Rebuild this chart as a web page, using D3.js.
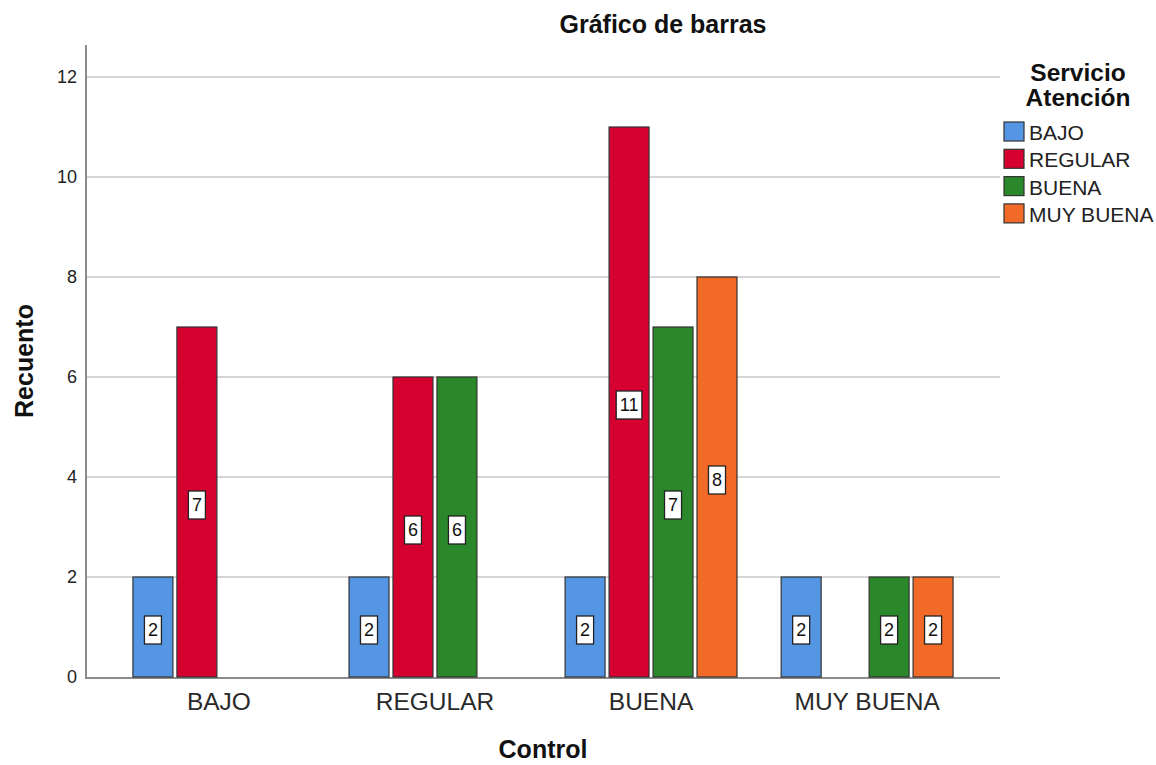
<!DOCTYPE html>
<html>
<head>
<meta charset="utf-8">
<script src="https://cdn.jsdelivr.net/npm/d3@7"></script>
<style>
  html, body { margin: 0; padding: 0; background: #fff; }
  svg { display: block; font-family: "Liberation Sans", Arial, sans-serif; }
</style>
</head>
<body>
<svg id="chart" width="1156" height="765"></svg>
<script>
// Control categories on the x axis
const categories = ["BAJO", "REGULAR", "BUENA", "MUY BUENA"];
// Servicio Atención series (legend order)
const seriesNames = ["BAJO", "REGULAR", "BUENA", "MUY BUENA"];
const seriesColors = ["#5596e4", "#d5002f", "#2a882b", "#f26a28"];
// Counts per series, one value per Control category (0 = no bar)
const bajoValues = [2, 2, 2, 2];
const regularValues = [7, 6, 11, 0];
const buenaValues = [0, 6, 7, 2];
const muyBuenaValues = [0, 0, 8, 2];
const yTicks = [0, 2, 4, 6, 8, 10, 12];

const seriesValues = [bajoValues, regularValues, buenaValues, muyBuenaValues];

const svg = d3.select("#chart");
const plot = { left: 86, right: 1000, top: 45, bottom: 677 };

const x0 = d3.scaleBand()
  .domain(categories)
  .range([plot.left, plot.right])
  .paddingInner(0.186)
  .paddingOuter(0.208);

const x1 = d3.scaleBand()
  .domain(seriesNames)
  .range([0, x0.bandwidth()])
  .paddingInner(4 / 44)
  .paddingOuter(2 / 44);

const y = d3.scaleLinear()
  .domain([0, 12.64])
  .range([plot.bottom, plot.top]);

// Horizontal gridlines
svg.append("g")
  .selectAll("line")
  .data(yTicks.filter(d => d > 0))
  .join("line")
  .attr("x1", plot.left).attr("x2", plot.right)
  .attr("y1", d => y(d)).attr("y2", d => y(d))
  .attr("stroke", "#c8c8c8")
  .attr("stroke-width", 1.6);

// Y axis
const yAxis = svg.append("g")
  .attr("transform", `translate(${plot.left},0)`)
  .call(d3.axisLeft(y).tickValues(yTicks).tickSize(0).tickPadding(9).tickFormat(d3.format("d")));
yAxis.select(".domain").remove();
yAxis.selectAll("text")
  .attr("font-size", 18)
  .attr("fill", "#222")
  .attr("font-family", "Liberation Sans, Arial, sans-serif");
svg.append("line")
  .attr("x1", plot.left).attr("x2", plot.left)
  .attr("y1", plot.top).attr("y2", plot.bottom + 1)
  .attr("stroke", "#8c8c8c").attr("stroke-width", 2);

// X axis
const xAxis = svg.append("g")
  .attr("transform", `translate(0,${plot.bottom})`)
  .call(d3.axisBottom(x0).tickSize(0).tickPadding(16));
xAxis.select(".domain").remove();
xAxis.selectAll("text")
  .attr("font-size", 24.5)
  .attr("fill", "#2a2a2a")
  .attr("font-family", "Liberation Sans, Arial, sans-serif");
svg.append("line")
  .attr("x1", plot.left - 1).attr("x2", plot.right)
  .attr("y1", plot.bottom + 1).attr("y2", plot.bottom + 1)
  .attr("stroke", "#8c8c8c").attr("stroke-width", 2);

// Bars
const barData = [];
categories.forEach((cat, ci) => {
  seriesNames.forEach((s, si) => {
    const v = seriesValues[si][ci];
    if (v > 0) barData.push({ cat, series: s, si, value: v });
  });
});

const bars = svg.append("g");
bars.selectAll("rect")
  .data(barData)
  .join("rect")
  .attr("x", d => x0(d.cat) + x1(d.series))
  .attr("y", d => y(d.value))
  .attr("width", x1.bandwidth())
  .attr("height", d => y(0) - y(d.value))
  .attr("fill", d => seriesColors[d.si])
  .attr("stroke", "#333")
  .attr("stroke-width", 1.2);

// Value labels in white boxes at the middle of each bar
const labels = svg.append("g");
barData.forEach(d => {
  const cx = x0(d.cat) + x1(d.series) + x1.bandwidth() / 2;
  const cy = (y(d.value) + y(0)) / 2 + 3;
  const g = labels.append("g");
  const t = g.append("text")
    .attr("x", cx).attr("y", cy)
    .attr("text-anchor", "middle")
    .attr("dominant-baseline", "central")
    .attr("font-size", 18)
    .attr("fill", "#111")
    .text(d.value);
  const bb = t.node().getBBox();
  g.insert("rect", "text")
    .attr("x", cx - bb.width / 2 - 3.5)
    .attr("y", cy - 14)
    .attr("width", bb.width + 7)
    .attr("height", 28)
    .attr("fill", "#fff")
    .attr("stroke", "#222")
    .attr("stroke-width", 1.3);
});

// Title
svg.append("text")
  .attr("x", 663).attr("y", 33)
  .attr("text-anchor", "middle")
  .attr("font-size", 25).attr("font-weight", "bold").attr("fill", "#111")
  .text("Gráfico de barras");

// Axis titles
svg.append("text")
  .attr("x", 543).attr("y", 758)
  .attr("text-anchor", "middle")
  .attr("font-size", 25).attr("font-weight", "bold").attr("fill", "#111")
  .text("Control");

svg.append("text")
  .attr("transform", "translate(33,361) rotate(-90)")
  .attr("text-anchor", "middle")
  .attr("font-size", 25).attr("font-weight", "bold").attr("fill", "#111")
  .text("Recuento");

// Legend
const legend = svg.append("g");
legend.append("text")
  .attr("x", 1078).attr("y", 81)
  .attr("text-anchor", "middle")
  .attr("font-size", 24.5).attr("font-weight", "bold").attr("fill", "#111")
  .selectAll("tspan")
  .data(["Servicio", "Atención"])
  .join("tspan")
  .attr("x", 1078)
  .attr("dy", (d, i) => i === 0 ? 0 : 25)
  .text(d => d);

const legendRows = legend.selectAll("g.row")
  .data(seriesNames)
  .join("g")
  .attr("class", "row")
  .attr("transform", (d, i) => `translate(1004,${122 + i * 27.3})`);
legendRows.append("rect")
  .attr("width", 20).attr("height", 19)
  .attr("fill", (d, i) => seriesColors[i])
  .attr("stroke", "#333").attr("stroke-width", 1.2);
legendRows.append("text")
  .attr("x", 25).attr("y", 10.5)
  .attr("dominant-baseline", "central")
  .attr("font-size", 21)
  .attr("fill", "#222")
  .text(d => d);
</script>
</body>
</html>
